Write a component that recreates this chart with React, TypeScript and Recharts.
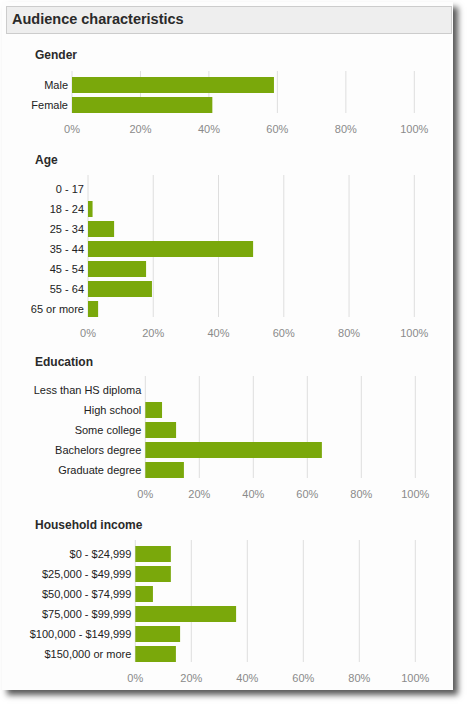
import React from 'react';
import { BarChart, Bar, XAxis, YAxis, CartesianGrid } from 'recharts';

const genderLabels = ['Male', 'Female'];
const genderValues = [59, 41];

const ageLabels = ['0 - 17', '18 - 24', '25 - 34', '35 - 44', '45 - 54', '55 - 64', '65 or more'];
const ageValues = [0, 1.4, 8, 50.6, 17.8, 19.6, 3.1];

const eduLabels = ['Less than HS diploma', 'High school', 'Some college', 'Bachelors degree', 'Graduate degree'];
const eduValues = [0, 6.2, 11.4, 65.4, 14.3];

const incomeLabels = ['$0 - $24,999', '$25,000 - $49,999', '$50,000 - $74,999', '$75,000 - $99,999', '$100,000 - $149,999', '$150,000 or more'];
const incomeValues = [12.7, 12.7, 6.3, 36, 16, 14.5];

const xTicks = [0, 20, 40, 60, 80, 100];

const FONT = "Arial, 'Liberation Sans', Helvetica, sans-serif";
const BAR_COLOR = '#7aa80b';

type SectionProps = {
  title: string;
  labels: string[];
  values: number[];
  titleTop: number;
  plotTop: number;
  axisX: number;
  plotRight: number;
};

function Section({ title, labels, values, titleTop, plotTop, axisX, plotRight }: SectionProps) {
  const data = labels.map((label, i) => ({ label, value: values[i] }));
  const plotH = labels.length * 20 + 2;
  const xAxisH = 30;
  const W = 440;
  return (
    <>
      <div
        style={{
          position: 'absolute',
          left: 35,
          top: titleTop,
          fontFamily: FONT,
          fontWeight: 'bold',
          fontSize: 12,
          lineHeight: '14px',
          color: '#2a2a2a',
        }}
      >
        {title}
      </div>
      <div style={{ position: 'absolute', left: 0, top: plotTop }}>
        <BarChart
          width={W}
          height={plotH + xAxisH}
          data={data}
          layout="vertical"
          margin={{ top: 0, right: W - plotRight, bottom: 0, left: 0 }}
          style={{ fontFamily: FONT }}
        >
          <CartesianGrid horizontal={false} vertical={true} stroke="#dedede" />
          <XAxis
            type="number"
            domain={[0, 100]}
            ticks={xTicks}
            tickFormatter={(v: number) => `${v}%`}
            axisLine={false}
            tickLine={false}
            tickSize={0}
            tickMargin={12}
            height={xAxisH}
            interval={0}
            tick={{ fontSize: 11, fill: '#8a8a8a', fontFamily: FONT }}
          />
          <YAxis
            type="category"
            dataKey="label"
            width={axisX}
            axisLine={false}
            tickLine={false}
            tickSize={0}
            tickMargin={4}
            interval={0}
            padding={{ top: 4, bottom: -2 }}
            tick={{ fontSize: 11, fill: '#222', fontFamily: FONT }}
          />
          <Bar dataKey="value" fill={BAR_COLOR} barSize={16} isAnimationActive={false} />
        </BarChart>
      </div>
    </>
  );
}

export default function App() {
  return (
    <div style={{ position: 'absolute', left: 0, top: 0, width: 467, height: 704, background: '#fff', fontFamily: FONT }}>
      <div
        style={{
          position: 'absolute',
          left: 2,
          top: 2,
          width: 451,
          height: 688,
          background: '#fdfdfd',
          boxShadow: '5px 5px 6px rgba(0,0,0,0.65)',
        }}
      />
      <div
        style={{
          position: 'absolute',
          left: 6,
          top: 6,
          width: 446,
          height: 28,
          boxSizing: 'border-box',
          background: '#eeeeee',
          border: '1px solid #cccccc',
        }}
      />
      <div
        style={{
          position: 'absolute',
          left: 12,
          top: 11,
          fontFamily: FONT,
          fontWeight: 'bold',
          fontSize: 14.5,
          lineHeight: '17px',
          color: '#2a2a2a',
        }}
      >
        Audience characteristics
      </div>
      <Section title="Gender" labels={genderLabels} values={genderValues} titleTop={48} plotTop={71} axisX={72} plotRight={414.3} />
      <Section title="Age" labels={ageLabels} values={ageValues} titleTop={153} plotTop={175} axisX={88} plotRight={414.3} />
      <Section title="Education" labels={eduLabels} values={eduValues} titleTop={355} plotTop={376} axisX={145.3} plotRight={415.3} />
      <Section title="Household income" labels={incomeLabels} values={incomeValues} titleTop={518} plotTop={540} axisX={135.3} plotRight={415.3} />
    </div>
  );
}
